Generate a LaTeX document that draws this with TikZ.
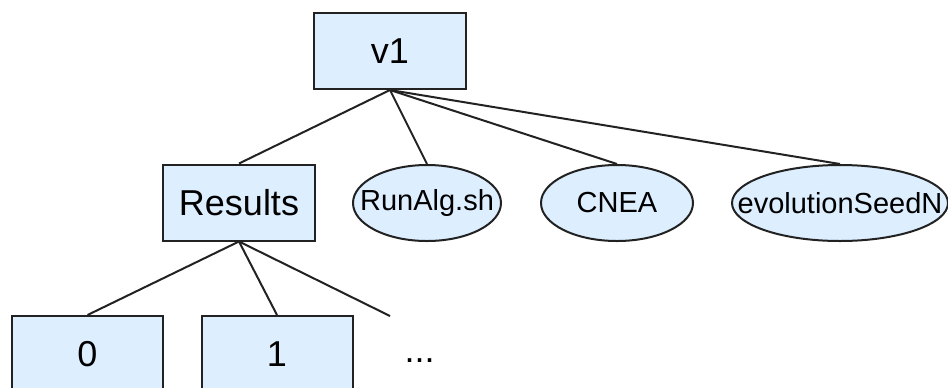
\documentclass[tikz,border=0pt]{standalone}
\usepackage{fontspec}
\setmainfont{Liberation Sans}
\usetikzlibrary{shapes.geometric}
\definecolor{boxfill}{HTML}{DDEEFF}
\definecolor{edge}{HTML}{222222}
\tikzset{
  folder/.style={draw=edge, line width=1pt, fill=boxfill, rectangle, inner sep=0pt,
    minimum width=76pt, minimum height=38pt, font=\fontsize{18}{20}\selectfont},
  filenode/.style={draw=edge, line width=1pt, fill=boxfill, ellipse, inner sep=0pt,
    minimum height=38pt, font=\fontsize{14.5}{16}\selectfont},
  link/.style={draw=edge, line width=1pt}
}
\begin{document}
\begin{tikzpicture}[x=0.5pt,y=-0.5pt]
\useasboundingbox (0,0) rectangle (948,387);
\clip (0,0) rectangle (948,387);
\node[folder] (v1) at (390,51) {v1};
\node[folder] (results) at (239,202.5) {Results};
\node[filenode, minimum width=74pt] (runalg) at (427,203) {\makebox[0pt]{RunAlg.sh}};
\node[filenode, minimum width=76pt] (cnea) at (617,203) {\makebox[0pt]{CNEA}};
\node[filenode, minimum width=108pt] (evo) at (840,203) {\makebox[0pt]{evolutionSeedN}};
\node[folder, minimum width=75.5pt] (zero) at (87.5,354) {0};
\node[folder, minimum width=75.5pt] (one) at (277,354) {1};
\node[anchor=base, inner sep=0pt, font=\fontsize{18}{20}\selectfont] (dots) at (419.5,362) {...};
\coordinate (more) at (390,316);
\draw[link] (v1.south) -- (results.north);
\draw[link] (v1.south) -- (runalg.north);
\draw[link] (v1.south) -- (cnea.north);
\draw[link] (v1.south) -- (evo.north);
\draw[link] (results.south) -- (zero.north);
\draw[link] (results.south) -- (one.north);
\draw[link] (results.south) -- (more);
\end{tikzpicture}
\end{document}
